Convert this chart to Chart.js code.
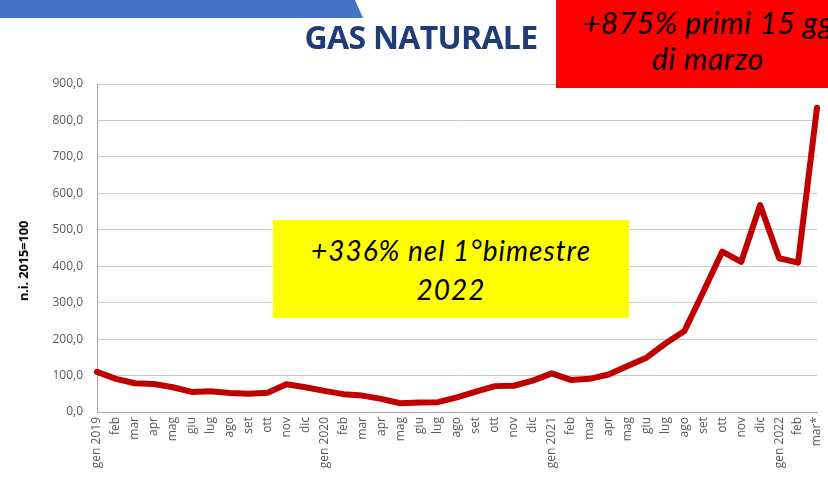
<!DOCTYPE html>
<html>
<head>
<meta charset="utf-8">
<script src="https://cdn.jsdelivr.net/npm/chart.js@4/dist/chart.umd.min.js"></script>
<style>
  html,body{margin:0;padding:0;background:#fff;}
  #wrap{position:relative;width:828px;height:478px;overflow:hidden;background:#fff;}
  canvas{position:absolute;left:0;top:0;}
  .band{position:absolute;left:0;top:0;width:363px;height:18px;background:#4472C4;clip-path:polygon(0 0,355px 0,363px 18px,0 18px);}
  .title{position:absolute;left:290px;top:17px;width:262px;text-align:center;font-family:"Open Sans",sans-serif;font-weight:700;font-size:32px;letter-spacing:-0.7px;color:#1F3B78;line-height:40px;white-space:nowrap;}
  .red{position:absolute;left:556px;top:0;width:272px;height:88px;background:#FF0000;overflow:hidden;}
  .red div{position:absolute;left:0;width:304px;text-align:center;font-family:"Lato",sans-serif;font-style:italic;font-size:30px;letter-spacing:0.6px;color:#000;white-space:nowrap;}
  .yellow{position:absolute;left:273px;top:220px;width:356px;height:98px;background:#FFFF00;}
  .yellow div{position:absolute;left:0;width:356px;text-align:center;font-family:"Lato",sans-serif;font-style:italic;font-size:28px;letter-spacing:1px;color:#000;white-space:nowrap;}
  .ytitle{position:absolute;left:23px;top:261px;transform:translate(-50%,-50%) rotate(-90deg);font-family:"Open Sans",sans-serif;font-weight:700;font-size:13px;color:#000;white-space:nowrap;letter-spacing:-0.2px;}
</style>
</head>
<body>
<div id="wrap">
  <canvas id="c" width="828" height="478"></canvas>
  <div class="band"></div>
  <div class="title">GAS NATURALE</div>
  <div class="ytitle">n.i. 2015=100</div>
  <div class="yellow"><div style="top:10px;line-height:40px;">+336% nel 1°bimestre</div><div style="top:49px;line-height:40px;">2022</div></div>
  <div class="red"><div style="top:2px;line-height:40px;">+875% primi 15 gg</div><div style="top:38px;line-height:40px;">di marzo</div></div>
</div>
<script>
const categories = [
  'gen 2019','feb','mar','apr','mag','giu','lug','ago','set','ott','nov','dic',
  'gen 2020','feb','mar','apr','mag','giu','lug','ago','set','ott','nov','dic',
  'gen 2021','feb','mar','apr','mag','giu','lug','ago','set','ott','nov','dic',
  'gen 2022','feb','mar*'
];
const gasValues = [
  110, 91, 79, 77, 68, 55, 57, 52, 50, 53, 76, 68,
  58, 49, 45, 36, 24, 26, 27, 40, 56, 71, 72, 86,
  106, 88, 91, 103, 126, 149, 188, 222, 330, 440, 412, 568,
  422, 410, 835
];
const yTicks = { min: 0, max: 900, step: 100 };

const ctx = document.getElementById('c').getContext('2d');
new Chart(ctx, {
  type: 'line',
  data: {
    labels: categories,
    datasets: [{
      data: gasValues,
      borderColor: '#C00000',
      backgroundColor: '#C00000',
      borderWidth: 6,
      pointRadius: 0,
      tension: 0,
      borderCapStyle: 'round',
      borderJoinStyle: 'round',
      clip: false
    }]
  },
  options: {
    responsive: false,
    animation: false,
    devicePixelRatio: 1,
    layout: { padding: { left: 0, right: 11, top: 84, bottom: 0 } },
    plugins: { legend: { display: false }, tooltip: { enabled: false }, title: { display: false } },
    scales: {
      x: {
        offset: false,
        grid: { display: false, drawTicks: false },
        border: { display: true, color: '#A6A6A6', width: 1 },
        ticks: {
          autoSkip: false, maxRotation: 90, minRotation: 90,
          padding: 5, color: '#595959',
          font: { family: 'Open Sans', size: 12 }
        },
        afterFit(s) { s.height = 66; s.paddingLeft = 0; s.paddingRight = 0; }
      },
      y: {
        min: yTicks.min, max: yTicks.max,
        grid: { color: '#C8C8C8', drawTicks: false, lineWidth: 1 },
        border: { display: true, color: '#A6A6A6', width: 1 },
        ticks: {
          stepSize: yTicks.step, padding: 14, color: '#595959',
          font: { family: 'Open Sans', size: 12 },
          callback: v => v.toFixed(1).replace('.', ',')
        },
        afterFit(s) { s.width = 97; s.paddingTop = 0; s.paddingBottom = 0; }
      }
    }
  }
});
</script>
</body>
</html>
